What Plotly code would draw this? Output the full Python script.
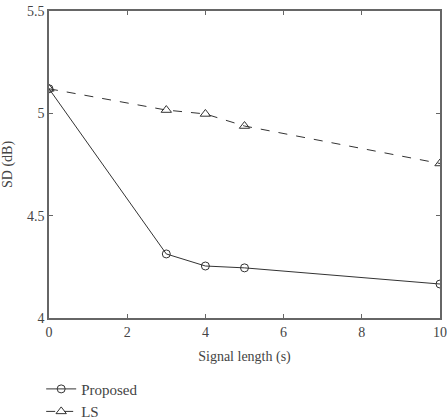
import plotly.graph_objects as go

signal_length = [0, 3, 4, 5, 10]
proposed = [5.12, 4.313, 4.254, 4.245, 4.166]
ls = [5.12, 5.016, 4.997, 4.938, 4.755]

FAM = "Liberation Serif"
font = dict(family=FAM, size=14, color="#444")

fig = go.Figure()
fig.add_trace(go.Scatter(x=signal_length, y=proposed, name="Proposed", mode="lines+markers",
                         line=dict(color="#333", width=1),
                         marker=dict(symbol="circle-open", size=8, color="#333", line=dict(width=1))))
fig.add_trace(go.Scatter(x=signal_length, y=ls, name="LS", mode="lines+markers",
                         line=dict(color="#333", width=1, dash="dash"),
                         marker=dict(symbol="triangle-up-open", size=9, color="#333", line=dict(width=1))))

axis_common = dict(showgrid=False, zeroline=False, showline=True, linecolor="#666", linewidth=1.5,
                   mirror="ticks", ticks="inside", ticklen=4, tickcolor="#666", tickwidth=1,
                   tickfont=font)
fig.update_xaxes(range=[0, 10], tickvals=[0, 2, 4, 6, 8, 10],
                 title=dict(text="Signal length (s)", font=font, standoff=13), **axis_common)
fig.update_yaxes(range=[4, 5.5], tickvals=[4, 4.5, 5, 5.5],
                 title=dict(text="SD (dB)", font=font, standoff=12), **axis_common)

fig.update_layout(
    width=447, height=420,
    margin=dict(l=49, r=7, t=11, b=102, autoexpand=False),
    plot_bgcolor="white", paper_bgcolor="white",
    font=font,
    legend=dict(x=-0.02, y=-0.178, xanchor="left", yanchor="top", tracegroupgap=0,
                font=dict(family=FAM, size=15, color="#444"),
                bgcolor="rgba(0,0,0,0)", itemwidth=30),
)
fig.write_html("out.html")
